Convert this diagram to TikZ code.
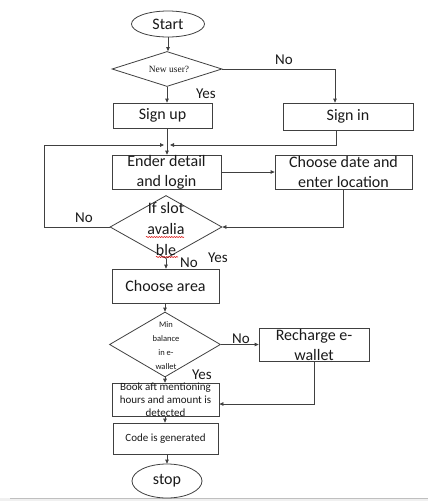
\documentclass[tikz,border=0pt]{standalone}
\usepackage{fontspec}
\setmainfont{Carlito}
\newfontfamily\serifnu{Liberation Serif}
\usetikzlibrary{shapes.geometric,arrows.meta,decorations.pathmorphing}
\definecolor{lc}{HTML}{404040}
\definecolor{tc}{HTML}{1A1A1A}
\begin{document}
\begin{tikzpicture}[x=1pt,y=-1pt,
  line/.style={draw=lc, line width=0.8pt},
  arr/.style={line, -{Triangle[length=4pt,width=3.6pt]}},
  box/.style={draw=lc, line width=0.8pt, rectangle, inner sep=0pt, align=center, text=tc, font=\fontsize{16}{20}\selectfont},
  smallbox/.style={box, font=\fontsize{11}{13}\selectfont},
  oval/.style={draw=lc, line width=0.8pt, ellipse, inner sep=0pt, text=tc, font=\fontsize{16}{20}\selectfont},
  dia/.style={draw=lc, line width=0.8pt, diamond, inner sep=0pt},
  lbl/.style={text=tc, inner sep=0pt, font=\fontsize{15}{18}\selectfont}
]
\useasboundingbox (0,0) rectangle (428,501);
\fill[white] (0,0) rectangle (428,501);
\fill[black!6] (0,498) rectangle (428,501);
\draw[black!25, line width=0.8pt] (10,498) -- (428,498);

% nodes
\node[oval, minimum width=73pt, minimum height=26pt] (start) at (168,24) {Start};
\node[dia, minimum width=110pt, minimum height=35pt] (d1) at (167,69) {};
\node[text=tc, inner sep=0pt, font=\serifnu\fontsize{9.5}{11}\selectfont] (d1t) at (169,69) {New user?};
\node[box, minimum width=99pt, minimum height=25pt] (signup) at (162.5,115.5) {Sign up};
\node[box, minimum width=130pt, minimum height=27pt] (signin) at (348,116.5) {Sign in};
\coordinate (m) at (167,145);
\coordinate (lc) at (44,145);
\node[box, minimum width=109pt, minimum height=34pt] (ender) at (166.5,172) {Ender detail\\and login};
\node[box, minimum width=137pt, minimum height=34pt] (cdate) at (343.5,172) {Choose date and\\enter location};
\node[dia, minimum width=112pt, minimum height=63pt] (d2) at (166,227) {};
\node[text=tc, inner sep=0pt, align=center, font=\fontsize{16}{21}\selectfont] (d2t) at (166,229) {If slot\\avalia\\ble};
\node[box, minimum width=107pt, minimum height=34pt] (area) at (165.5,286) {Choose area};
\node[dia, minimum width=111pt, minimum height=65pt] (d3) at (165,344.5) {};
\node[text=tc, inner sep=0pt, align=center, font=\fontsize{8.5}{14}\selectfont] (d3t) at (166,346) {Min\\balance\\in e-\\wallet};
\node[box, minimum width=110pt, minimum height=33pt] (recharge) at (314,344.5) {Recharge e-\\wallet};
\node[smallbox, minimum width=107pt, minimum height=27pt] (book) at (165.5,400) {Book aft mentioning\\hours and amount is\\detected};
\node[smallbox, minimum width=105pt, minimum height=31pt] (code) at (165.5,438.5) {Code is generated};
\node[oval, minimum width=70pt, minimum height=34pt] (stop) at (167,481) {stop};

% labels
\node[lbl] (l1) at (284,60) {No};
\node[lbl] (l2) at (206,94) {Yes};
\node[lbl] (l3) at (84,218) {No};
\node[lbl] (l4) at (189,263) {No};
\node[lbl] (l5) at (218,258) {Yes};
\node[lbl] (l6) at (241,339) {No};
\node[lbl] (l7) at (202,375) {Yes};

% spell-check underlines
\draw[red!85!black, line width=0.5pt, decorate, decoration={snake, amplitude=0.6pt, segment length=2.5pt}] (146,237) -- (184,237);
\draw[red!85!black, line width=0.5pt, decorate, decoration={snake, amplitude=0.6pt, segment length=2.5pt}] (156,257) -- (178,257);

% connectors
\draw[arr] (start.south) -- (start.south |- d1.north);
\draw[arr] (d1.south) -- (d1.south |- signup.north);
\draw[arr] (d1.east) -| ([xshift=-13pt]signin.north);
\draw[line] (signup.south -| m) -- (m);
\draw[arr] ([xshift=-12pt]signin.south) |- ([xshift=3pt]m);
\draw[arr] (d2.west) -| (lc) -- ([xshift=-3pt]m);
\draw[arr] (m) -- (m |- ender.north);
\draw[arr] (ender.east) -- (cdate.west);
\draw[arr] (cdate.south) |- (d2.east);
\draw[arr] (d2.south) -- (d2.south |- area.north);
\draw[arr] (area.south -| d3) -- (d3.north);
\draw[arr] (d3.east) -- (recharge.west);
\draw[arr] (recharge.south) |- ([yshift=-4pt]book.east);
\draw[arr] (d3.south) -- (d3.south |- book.north);
\draw[arr] (book.south -| d3) -- (d3 |- code.north);
\draw[arr] (code.south -| stop) -- (stop.north);
\end{tikzpicture}
\end{document}
